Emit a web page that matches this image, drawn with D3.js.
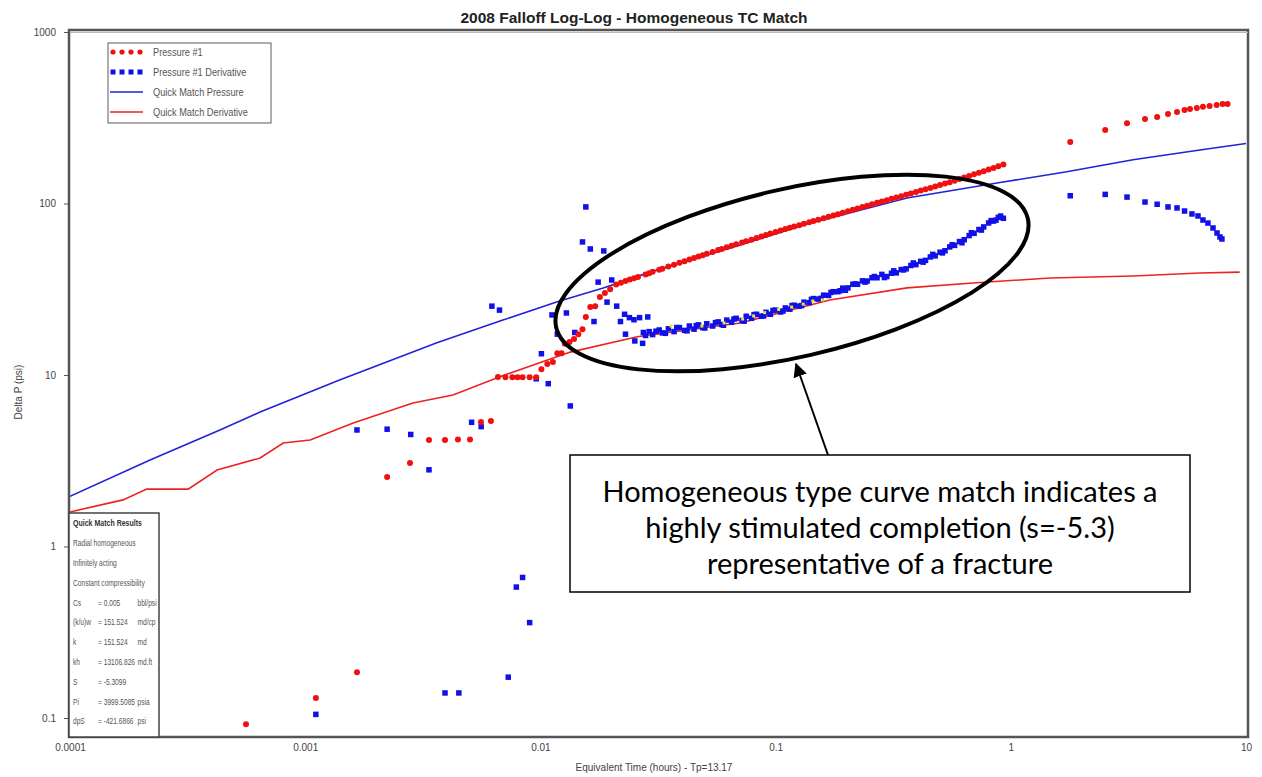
<!DOCTYPE html>
<html><head><meta charset="utf-8">
<script src="https://cdn.jsdelivr.net/npm/d3@7"></script>
<style>body{margin:0;background:#fff}svg{display:block}</style>
</head><body>
<svg id="c" width="1262" height="777"></svg>
<script>
// ---------- DATA ----------
const chartTitle = "2008 Falloff Log-Log - Homogeneous TC Match";
const xTitle = "Equivalent Time (hours) - Tp=13.17";
const yTitle = "Delta P (psi)";
const xTicks = [0.0001, 0.001, 0.01, 0.1, 1, 10];
const xTickLabels = ["0.0001", "0.001", "0.01", "0.1", "1", "10"];
const yTicks = [0.1, 1, 10, 100, 1000];
const yTickLabels = ["0.1", "1", "10", "100", "1000"];
const legendLabels = ["Pressure #1", "Pressure #1 Derivative", "Quick Match Pressure", "Quick Match Derivative"];

// Pressure #1 (red dots)
const presTime = [0.00056,0.00111,0.00166,0.00223,0.00279,0.00336,0.00393,0.00446,0.00502,0.00559,0.00616,
  0.0066,0.0071,0.0076,0.0080,0.0084,0.0090,0.0096,0.0101,0.0107,0.0113,0.0118,0.0123,0.0127,0.0133,0.0139,0.0145,0.0151,0.0156,0.0163,0.0171,0.0179,0.0188,0.0198,
  0.021,0.022,0.023,0.024,0.025,0.026,0.028,0.029,0.030,0.032,0.033,0.035,0.037,0.039,0.041,0.043,0.045,0.047,0.049,0.051,0.054,0.057,0.059,0.062,0.065,0.068,0.072,0.075,0.079,0.083,0.087,0.091,0.095,0.10,0.105,0.11,0.115,0.12,0.126,0.132,0.139,0.145,0.152,0.16,0.168,0.176,0.184,0.193,0.203,0.213,0.223,0.234,0.245,0.257,0.27,0.283,0.297,0.311,0.326,0.342,0.359,0.376,0.395,0.414,0.434,0.455,0.477,0.5,0.525,0.55,0.577,0.605,0.634,0.665,0.698,0.732,0.767,0.805,0.844,0.885,0.93,
  1.79,2.52,3.12,3.72,4.19,4.66,5.09,5.48,5.78,6.18,6.56,7.0,7.5,7.95,8.35];
const presValue = [0.092,0.131,0.185,2.54,3.07,4.18,4.18,4.2,4.2,5.32,5.4,
  9.74,9.7,9.7,9.7,9.7,9.7,9.7,10.8,11.6,11.9,13.4,13.4,15.2,15.6,16.2,17.3,18.5,21.8,24.9,25.2,28.5,30.1,31.6,
  33.7,34.5,35.3,36.0,36.7,37.3,38.6,39.2,40.0,41.1,41.7,42.9,44.0,45.1,46.1,47.1,48.1,49.1,50.0,50.9,52.2,53.5,54.3,55.5,56.7,57.9,59.2,60.3,61.5,63.0,64.3,65.6,66.8,68.3,69.6,71.0,72.2,73.4,74.8,76.2,77.8,79.0,80.5,82.0,83.7,85.2,86.7,88.4,90.2,92.0,93.6,95.4,97.1,99.0,100.9,102.7,104.6,106.5,108.4,110.4,112.6,114.5,116.7,118.9,121.1,123.3,125.7,128.1,130.6,133.1,135.9,138.8,141.6,144.7,147.9,151.1,154.4,157.8,161.3,164.9,168.6,
  228,268,294,311,319,333,342,351,356,361,366,370,375,380,380];

// Pressure #1 Derivative (blue squares)
const derivTime = [0.00111,0.00166,0.00223,0.00281,0.00336,0.00393,0.0045,0.0051,0.0056,0.00622,0.0067,0.0073,0.0079,0.0084,0.009,0.0096,0.0101,0.0108,0.0112,0.0118,0.0129,0.0134,0.0140,0.0151,0.0156,0.0163,0.0169,0.0176,0.0186,0.0192,0.0201,0.0211,0.0219,0.0228,0.0230,0.0239,0.0250,0.0252,0.0264,0.0272,0.0274,0.0286,
  0.028,0.029,0.030,0.032,0.033,0.035,0.037,0.039,0.041,0.043,0.045,0.047,0.049,0.051,0.054,0.057,0.059,0.062,0.065,0.068,0.072,0.075,0.079,0.083,0.087,0.091,0.095,0.10,0.105,0.11,0.115,0.12,0.126,0.132,0.139,0.145,0.152,0.16,0.168,0.176,0.184,0.193,0.203,0.213,0.223,0.234,0.245,0.257,0.27,0.283,0.297,0.311,0.326,0.342,0.359,0.376,0.395,0.414,0.434,0.455,0.477,0.5,0.525,0.55,0.577,0.605,0.634,0.665,0.698,0.732,0.767,0.805,0.844,0.885,0.93,
  0.031,0.034,0.038,0.042,0.046,0.050,0.0555,0.060,0.0665,0.0735,0.081,0.089,0.0975,0.1075,0.1175,0.129,0.142,0.156,0.172,0.188,0.198,0.218,0.24,0.263,0.29,0.318,0.35,0.385,0.424,0.466,0.512,0.563,0.62,0.68,0.75,0.825,0.865,0.905,
  1.79,2.52,3.12,3.72,4.19,4.66,5.09,5.48,5.89,6.25,6.56,6.89,7.24,7.53,7.75,7.9];
const derivValue = [0.105,4.78,4.83,4.5,2.8,0.14,0.14,5.3,5.0,25.2,23.9,0.173,0.58,0.66,0.36,9.5,13.3,8.9,22.4,17.3,23,6.6,17.7,59.7,95.5,54.3,20.5,34.8,52.9,26.6,35.8,25.2,20.5,22.6,17.3,21.6,21,15.8,21.6,15.3,17.7,21.8,
  17.0,17.9,17.2,18.3,17.6,18.6,17.9,18.9,18.2,19.3,18.5,19.6,18.9,19.9,19.3,20.4,19.7,20.9,20.3,21.4,20.8,22.0,21.4,22.6,22.0,23.2,22.6,23.9,23.3,24.6,24.2,25.5,25.2,26.6,26.4,27.9,27.7,29.2,29.1,30.6,30.6,32.1,32.2,33.8,33.8,35.4,35.3,36.9,36.9,38.6,37.5,39.2,39.4,41.2,41.6,43.5,44.0,46.0,46.6,48.8,49.5,52.0,53.0,55.8,57.0,60.0,61.5,65.0,67.0,70.5,73.0,77.0,79.0,83.0,82.0,
  18.0,17.5,18.9,18.1,19.4,18.8,20.2,19.5,21.2,20.6,22.5,22.1,23.8,23.6,25.4,25.4,27.6,28.0,30.3,31.0,31.2,34.0,34.8,37.5,37.0,40.5,41.0,45.0,45.5,50.5,51.5,57.5,59.0,67.5,70.0,79.5,80.0,84.5,
  111,113,109,102,99,95.5,94.2,90.4,86.9,84.6,80.1,76.9,72.0,67.3,63.8,62.1];

// small yellow markers inside the derivative band
const markerTime = [0.0359,0.0486,0.0604,0.0724,0.0806,0.0898,0.103,0.117,0.131,0.144,0.158];
const markerValue = [19.3,19.3,20.1,21.2,22.1,23.1,24.1,24.9,25.9,27.0,27.4];

// Quick Match Pressure (blue line)
const qmPresTime = [0.0001,0.000219,0.000434,0.000643,0.0014,0.00363,0.00693,0.0118,0.0185,0.0293,0.0707,0.136,0.362,0.913,1.73,3.31,6.37,10];
const qmPresValue = [1.96,3.19,4.78,6.08,9.35,15.4,20.9,26.7,32.2,39.8,57.3,75.9,107.6,133,153,180,205,224];

// Quick Match Derivative (red line)
const qmDerivTime = [0.0001,0.000168,0.000212,0.000318,0.000422,0.000643,0.000806,0.00105,0.0016,0.00287,0.00425,0.0069,0.0134,0.0258,0.0707,0.170,0.362,0.69,1.47,3.31,6.37,9.4];
const qmDerivValue = [1.59,1.87,2.16,2.16,2.79,3.28,4.01,4.18,5.25,6.87,7.64,9.9,13.6,16.7,20.1,27.4,32.2,34.4,36.8,37.8,39.3,39.8];

// Quick Match Results box
const resultsTitle = "Quick Match Results";
const resultsNotes = ["Radial homogeneous", "Infinitely acting", "Constant compressibility"];
const resultsNames = ["Cs", "(k/u)w", "k", "kh", "S", "Pi", "dpS"];
const resultsValues = ["= 0.005", "= 151.524", "= 151.524", "= 13106.826", "= -5.3099", "= 3999.5085", "= -421.6866"];
const resultsUnits = ["bbl/psi", "md/cp", "md", "md.ft", "", "psia", "psi"];

const annotationLines = ["Homogeneous type curve match indicates a", "highly stimulated completion (s=-5.3)", "representative of a fracture"];

// ---------- DRAW ----------
const svg = d3.select("#c");
const FONT = "'Liberation Sans', Arial, sans-serif";
const L = 70, R = 1246, T = 30, B = 737;
const x = d3.scaleLog().domain([1e-4, 10]).range([L, R]);
const y = d3.scaleLog().domain([0.1, 1000]).range([718, 32]);

const RED = "#f01010", BLUE = "#1010e8";

// title
svg.append("text").attr("x", 634).attr("y", 23).attr("text-anchor", "middle")
  .attr("font-family", FONT).attr("font-weight", "bold").attr("font-size", 15.5).attr("fill", "#222")
  .text(chartTitle);

// plot area clip
svg.append("defs").append("clipPath").attr("id", "clip")
  .append("rect").attr("x", L).attr("y", T).attr("width", 1248 - L).attr("height", B - T);
const plot = svg.append("g").attr("clip-path", "url(#clip)");

// quick match lines
const line = d3.line().x(d => x(d[0])).y(d => y(d[1]));
plot.append("path").datum(d3.zip(qmPresTime, qmPresValue)).attr("d", line)
  .attr("fill", "none").attr("stroke", "#2222d8").attr("stroke-width", 1.6);
plot.append("path").datum(d3.zip(qmDerivTime, qmDerivValue)).attr("d", line)
  .attr("fill", "none").attr("stroke", "#ee2222").attr("stroke-width", 1.6);

// derivative squares
const sq = 5.5;
plot.append("g").selectAll("rect").data(d3.zip(derivTime, derivValue)).join("rect")
  .attr("x", d => x(d[0]) - sq / 2).attr("y", d => y(d[1]) - sq / 2)
  .attr("width", sq).attr("height", sq).attr("fill", BLUE);

// pressure dots
plot.append("g").selectAll("circle").data(d3.zip(presTime, presValue)).join("circle")
  .attr("cx", d => x(d[0])).attr("cy", d => y(d[1])).attr("r", 3).attr("fill", RED);

// yellow markers
plot.append("g").selectAll("rect").data(d3.zip(markerTime, markerValue)).join("rect")
  .attr("x", d => x(d[0]) - 1.5).attr("y", d => y(d[1]) - 1.5)
  .attr("width", 3).attr("height", 3).attr("fill", "#e8e830");

// frame
svg.append("rect").attr("x", L - 1).attr("y", T).attr("width", 1248 - L + 1).attr("height", B - T)
  .attr("fill", "none").attr("stroke", "#555").attr("stroke-width", 2.5);
svg.append("line").attr("x1", L).attr("x2", 1248).attr("y1", T + 2.5).attr("y2", T + 2.5)
  .attr("stroke", "#bbb").attr("stroke-width", 1);

// axes
const yAxis = d3.axisLeft(y).tickValues(yTicks).tickFormat((d, i) => yTickLabels[i]).tickSize(5).tickPadding(8);
const gy = svg.append("g").attr("transform", `translate(${L - 1},0)`).call(yAxis);
gy.select(".domain").remove();
gy.selectAll("text").attr("font-family", FONT).attr("font-size", 10).attr("fill", "#444");
gy.selectAll("line").attr("stroke", "#555");

const xAxis = d3.axisBottom(x).tickValues(xTicks).tickFormat((d, i) => xTickLabels[i]).tickSize(0).tickPadding(7);
const gx = svg.append("g").attr("transform", `translate(0,${B})`).call(xAxis);
gx.select(".domain").remove();
gx.selectAll("text").attr("font-family", FONT).attr("font-size", 10).attr("fill", "#444");

svg.append("text").attr("x", 654).attr("y", 771).attr("text-anchor", "middle")
  .attr("font-family", FONT).attr("font-size", 10).attr("fill", "#444").text(xTitle);
svg.append("text").attr("transform", "translate(22,392) rotate(-90)").attr("text-anchor", "middle")
  .attr("font-family", FONT).attr("font-size", 10).attr("fill", "#444").text(yTitle);

// legend
const lg = svg.append("g");
lg.append("rect").attr("x", 108).attr("y", 43).attr("width", 163).attr("height", 80)
  .attr("fill", "#fff").attr("stroke", "#777").attr("stroke-width", 1.2);
const rowY = [52, 72, 92, 112];
legendLabels.forEach((lab, i) => {
  const ry = rowY[i];
  if (i === 0) {
    [113, 122, 131, 140].forEach(cx => lg.append("circle").attr("cx", cx).attr("cy", ry).attr("r", 2.6).attr("fill", RED));
  } else if (i === 1) {
    [113, 122, 131, 140].forEach(cx => lg.append("rect").attr("x", cx - 2.5).attr("y", ry - 2.5).attr("width", 5).attr("height", 5).attr("fill", BLUE));
  } else {
    lg.append("line").attr("x1", 110).attr("x2", 143).attr("y1", ry).attr("y2", ry)
      .attr("stroke", i === 2 ? "#2222d8" : "#ee2222").attr("stroke-width", 1.5);
  }
  lg.append("text").attr("transform", `translate(153,${ry + 3.5}) scale(0.88,1)`).attr("font-family", FONT).attr("font-size", 10.5)
    .attr("fill", "#555").text(lab);
});

// results box
const rb = svg.append("g");
rb.append("rect").attr("x", 69).attr("y", 513).attr("width", 90).attr("height", 224)
  .attr("fill", "#fff").attr("stroke", "#444").attr("stroke-width", 1.5);
const rtext = (tx, ty, t, bold) => rb.append("text").attr("transform", `translate(${tx},${ty}) scale(0.78,1)`)
  .attr("font-family", FONT).attr("font-size", bold ? 9 : 8.5).attr("font-weight", bold ? "bold" : "normal")
  .attr("fill", bold ? "#333" : "#555").text(t);
rtext(73, 526, resultsTitle, true);
resultsNotes.forEach((t, i) => rtext(73, 546 + i * 19.8, t, false));
resultsNames.forEach((t, i) => {
  const yy = 605.5 + i * 19.8;
  rtext(73, yy, t, false);
  rtext(98, yy, resultsValues[i], false);
  rtext(137.5, yy, resultsUnits[i], false);
});

// ellipse highlight
svg.append("ellipse").attr("cx", 792).attr("cy", 273).attr("rx", 242).attr("ry", 84)
  .attr("transform", "rotate(-13,792,273)")
  .attr("fill", "none").attr("stroke", "#000").attr("stroke-width", 4);

// annotation box + arrow
svg.append("defs").append("marker").attr("id", "ah").attr("viewBox", "0 0 10 10")
  .attr("refX", 9).attr("refY", 5).attr("markerWidth", 7).attr("markerHeight", 7).attr("orient", "auto")
  .append("path").attr("d", "M0,0 L10,5 L0,10 z").attr("fill", "#000");
svg.append("line").attr("x1", 828).attr("y1", 455).attr("x2", 796).attr("y2", 364)
  .attr("stroke", "#000").attr("stroke-width", 2).attr("marker-end", "url(#ah)");
svg.append("rect").attr("x", 570).attr("y", 455).attr("width", 620).attr("height", 137)
  .attr("fill", "#fff").attr("stroke", "#000").attr("stroke-width", 1.5);
annotationLines.forEach((t, i) => svg.append("text").attr("x", 880).attr("y", 502 + i * 36)
  .attr("text-anchor", "middle").attr("font-family", "Lato, 'Open Sans', sans-serif").attr("font-size", 29)
  .attr("fill", "#000").text(t));
</script>
</body></html>
